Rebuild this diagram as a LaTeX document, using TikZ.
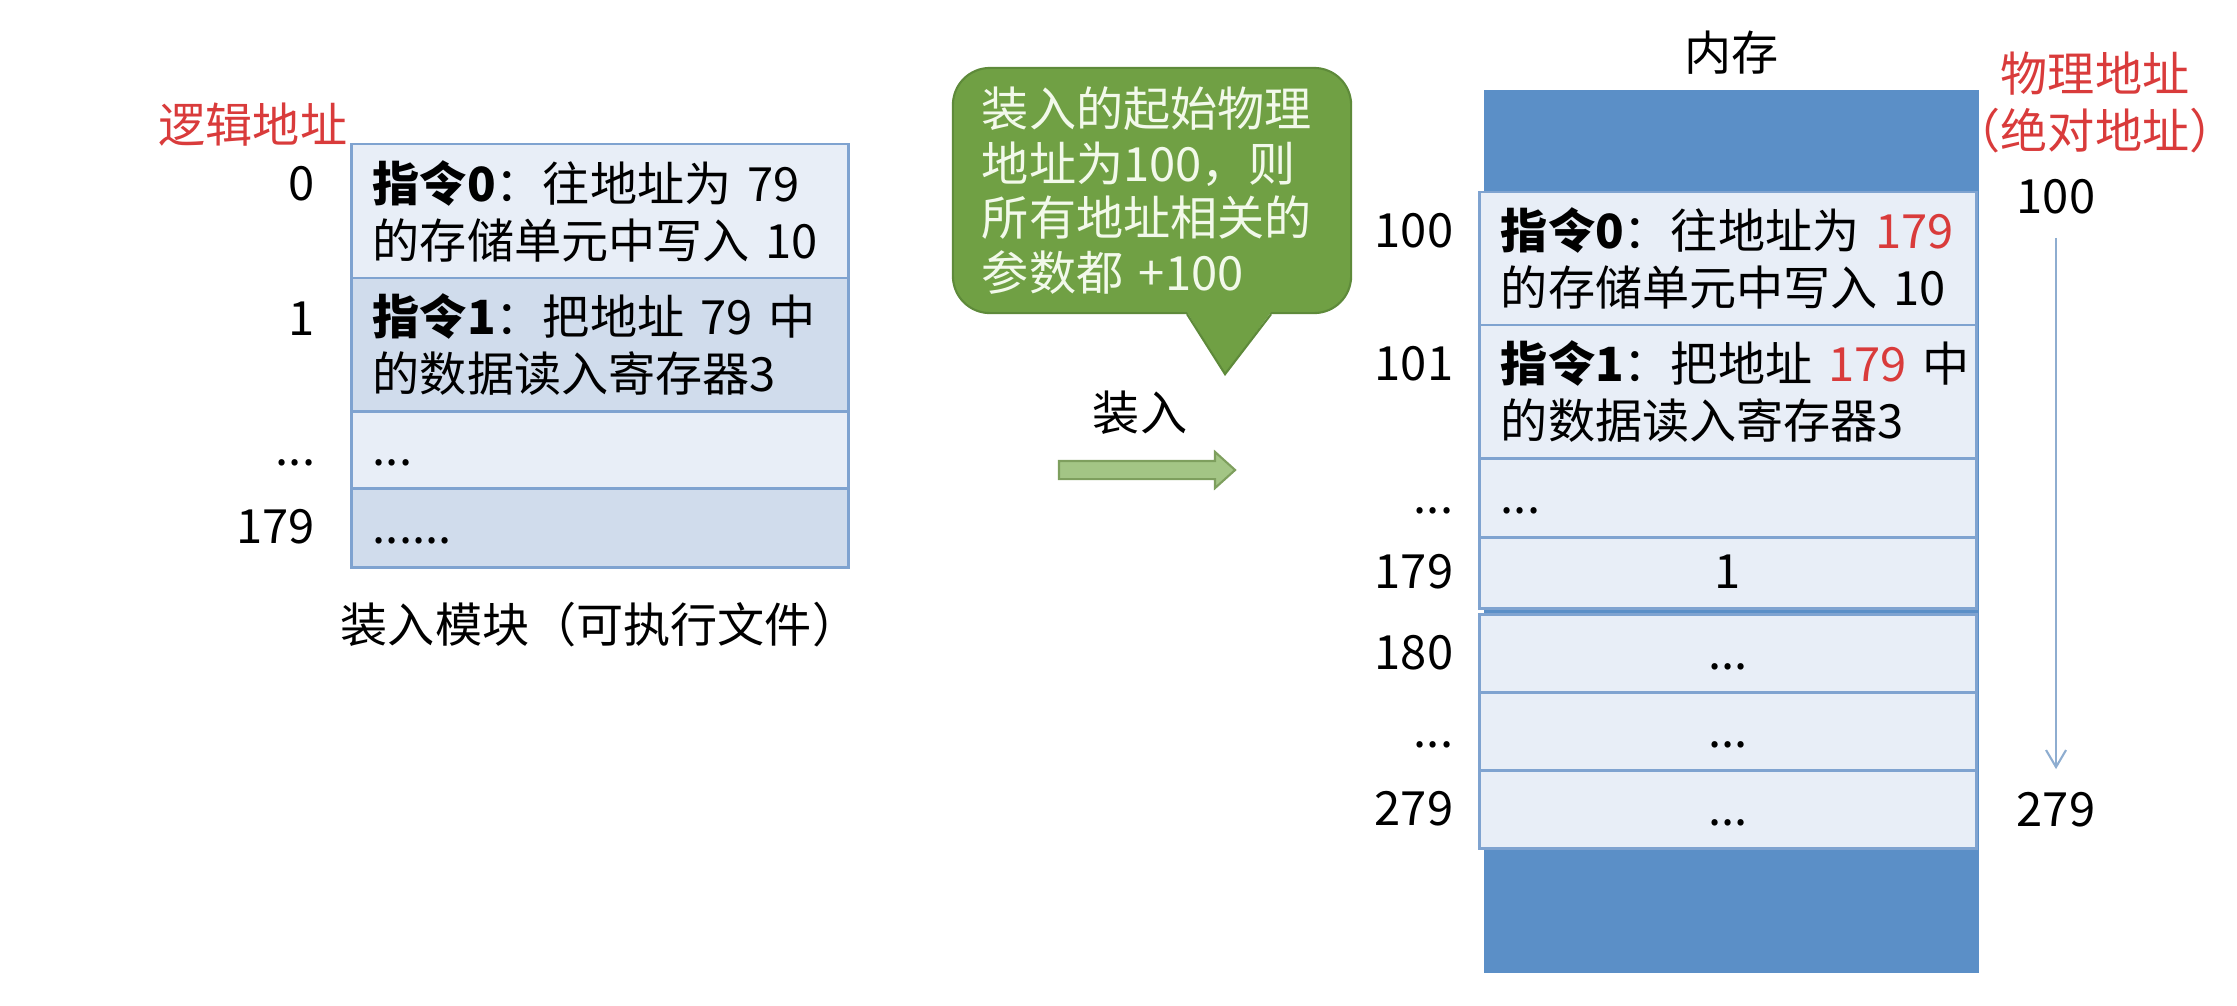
\documentclass[tikz,border=0pt]{standalone}
\usepackage{fontspec}
\setmainfont{Noto Sans CJK SC}
\usepackage{tikz}
\usetikzlibrary{positioning}
\usetikzlibrary{shapes.arrows}
\usetikzlibrary{arrows.meta}
\usepackage{xcolor}
\definecolor{cellLight}{HTML}{E8EEF7}
\definecolor{cellDark}{HTML}{D0DCEC}
\definecolor{cellLine}{HTML}{7FA3D0}
\definecolor{memBlue}{HTML}{5B8FC7}
\definecolor{noteGreen}{HTML}{70A044}
\definecolor{noteLine}{HTML}{5E8A3A}
\definecolor{noteText}{HTML}{F2F9EA}
\definecolor{loadGreen}{HTML}{A3C585}
\definecolor{loadLine}{HTML}{7E9F5E}
\definecolor{addrRed}{HTML}{D93B3B}
\definecolor{guideBlue}{HTML}{8EADD0}

\begin{document}
\begin{tikzpicture}[
		x=0.01cm, y=-0.01cm,
		% Style definitions for the memory cells
		base/.style={font=\fontsize{13.4pt}{16.2pt}\selectfont},
		cell/.style={base, draw=cellLine, line width=0.8pt, fill=cellLight, text width=4.54cm, inner xsep=0.21cm, inner ysep=0pt, outer sep=0pt},
		twoline/.style={cell, align=left},
		oneline/.style={cell, align=left, text height=9.2pt, text depth=0pt},
		midline/.style={cell, align=center, text height=9.2pt, text depth=0pt},
		addr/.style={base, inner sep=0pt, text height=9.2pt, text depth=0pt},
		redlabel/.style={base, text=addrRed, inner sep=0pt, align=center},
		note/.style={font=\fontsize{13.4pt}{15.6pt}\selectfont, fill=noteGreen, draw=noteLine, line width=0.6pt, rounded corners=0.37cm, minimum width=3.98cm, minimum height=2.45cm, text width=3.4cm, align=left, text=noteText, inner xsep=0.29cm},
		loadarrow/.style={single arrow, draw=loadLine, fill=loadGreen, line width=0.6pt, minimum height=1.76cm, inner xsep=0pt, inner ysep=0.08cm, single arrow head extend=0.09cm, single arrow tip angle=84},
		guide/.style={-{Straight Barb[length=0.17cm, width=0.2cm]}, line width=0.6pt, guideBlue},
		% Rows touch each other
		node distance=0cm,
		]
		\useasboundingbox (0,0) rectangle (2237,1005);

		% === Load module (left) ===
		\node[twoline, minimum height=1.34cm] (lrow0) at (600,211) {\textbf{指令0}：往地址为~79\\的存储单元中写入~10};
		\node[twoline, fill=cellDark, minimum height=1.33cm, below=of lrow0] (lrow1) {\textbf{指令1}：把地址~79~中\\的数据读入寄存器3};
		\node[oneline, minimum height=0.77cm, below=of lrow1] (lrow2) {...};
		\node[oneline, fill=cellDark, minimum height=0.79cm, below=of lrow2] (lrow3) {......};

		% logical addresses
		\node[redlabel, anchor=east] (logic) at ([xshift=-0.04cm, yshift=0.19cm]lrow0.north west) {逻辑地址};
		\node[addr, anchor=east] (l0) at ([xshift=-0.36cm, yshift=-0.40cm]lrow0.north west) {0};
		\node[addr, anchor=east] (l1) at ([xshift=-0.36cm, yshift=-0.41cm]lrow1.north west) {1};
		\node[addr, left=0.36cm of lrow2] (l2) {...};
		\node[addr, left=0.36cm of lrow3] (l3) {179};
		\node[base, below=0.22cm of lrow3] (module) {装入模块（可执行文件）};

		% === Callout and load arrow ===
		\node[note] (note) at (1152,190.5) {装入的起始物理\\地址为100，则\\所有地址相关的\\参数都 +100};
		\coordinate (tip) at ([xshift=0.73cm, yshift=-0.6cm]note.south);
		\fill[noteGreen] ([xshift=0.35cm, yshift=0.02cm]note.south) -- (tip) -- ([xshift=1.19cm, yshift=0.02cm]note.south) -- cycle;
		\draw[noteLine, line width=0.6pt] ([xshift=0.35cm]note.south) -- (tip) -- ([xshift=1.19cm]note.south);

		\node[base] (loadlabel) at (1140,413) {装入};
		\node[loadarrow] (load) at (1142,470) {};

		% === Main memory (right) ===
		\node[fill=memBlue, minimum width=4.95cm, minimum height=8.83cm, inner sep=0pt] (mem) at (1731.5,531.5) {};
		\node[base, above=0.02cm of mem] (memlabel) {内存};

		\node[twoline, minimum height=1.33cm] (mrow0) at (1728,258.5) {\textbf{指令0}：往地址为~\textcolor{addrRed}{179}\\的存储单元中写入~10};
		\node[twoline, minimum height=1.33cm, below=of mrow0] (mrow1) {\textbf{指令1}：把地址~\textcolor{addrRed}{179}~中\\的数据读入寄存器3};
		\node[oneline, minimum height=0.79cm, below=of mrow1] (mrow2) {...};
		\node[midline, minimum height=0.71cm, below=of mrow2] (mrow3) {1};
		\node[midline, minimum height=0.78cm, below=0.06cm of mrow3] (mrow4) {...};
		\node[midline, minimum height=0.78cm, below=of mrow4] (mrow5) {...};
		\node[midline, minimum height=0.78cm, below=of mrow5] (mrow6) {...};

		% memory addresses
		\node[addr, anchor=east] (m0) at ([xshift=-0.26cm, yshift=-0.39cm]mrow0.north west) {100};
		\node[addr, anchor=east] (m1) at ([xshift=-0.26cm, yshift=-0.39cm]mrow1.north west) {101};
		\node[addr, left=0.26cm of mrow2] (m2) {...};
		\node[addr, left=0.26cm of mrow3] (m3) {179};
		\node[addr, left=0.26cm of mrow4] (m4) {180};
		\node[addr, left=0.26cm of mrow5] (m5) {...};
		\node[addr, left=0.26cm of mrow6] (m6) {279};

		% === Physical addresses ===
		\node[redlabel] (phys) at (2095,102) {物理地址\\（绝对地址）};
		\node[addr] (p100) at (2056,197) {100};
		\node[addr] (p279) at (2056,810) {279};
		\draw[guide, shorten <=0.24cm, shorten >=0.24cm] (p100.south) -- (p279.north);

	\end{tikzpicture}
\end{document}
